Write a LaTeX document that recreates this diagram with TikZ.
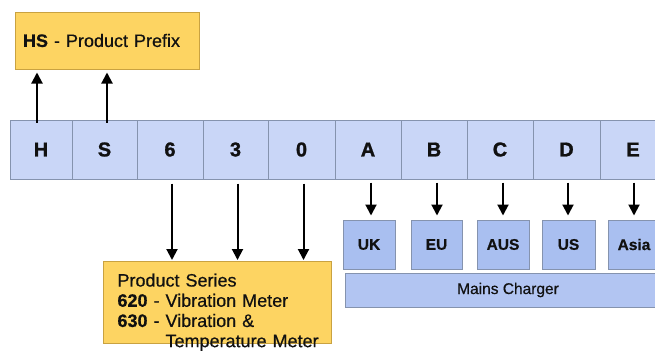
\documentclass[tikz,border=0pt]{standalone}
\usepackage{fontspec}
\setmainfont{Liberation Sans}
\newfontfamily\heavyfont[FakeBold=1.2]{Liberation Sans Bold}
\newfontfamily\midfont[FakeBold=0.6]{Liberation Sans Bold}
\newfontfamily\txtfont[FakeBold=0.5]{Liberation Sans}
\usetikzlibrary{arrows.meta}
\definecolor{stripfill}{HTML}{C9D6F7}
\definecolor{stripline}{HTML}{8593AE}
\definecolor{plugfill}{HTML}{A9BFF0}
\definecolor{mainsfill}{HTML}{B2C5F2}
\definecolor{goldfill}{HTML}{FDD462}
\definecolor{goldline}{HTML}{C9A241}
\definecolor{ink}{HTML}{111111}
\newcommand{\bnum}[1]{{\midfont #1}}
\begin{document}
\begin{tikzpicture}[x=1pt,y=-1pt,
  cell/.style={draw=stripline,fill=stripfill,line width=1pt,inner sep=0pt,
    minimum height=59pt,text=ink,font=\fontsize{20}{22}\selectfont\heavyfont},
  plug/.style={draw=stripline,fill=plugfill,line width=1pt,inner sep=0pt,
    minimum width=52pt,minimum height=49pt,text=ink,font=\fontsize{15.5}{17}\selectfont\midfont},
  goldbox/.style={draw=goldline,fill=goldfill,line width=1pt,text=ink,align=left},
  arr/.style={draw=black,line width=2pt,-{Triangle[width=11pt,length=11pt]}}]
\useasboundingbox (0,0) rectangle (655,357);
\clip (0,0) rectangle (655,357);

% strip of code characters
\node[cell,minimum width=62pt] (H) at (41,149.5) {H};
\node[cell,minimum width=65pt] (S) at (104.5,149.5) {S};
\node[cell,minimum width=66pt] (c6) at (170,149.5) {6};
\node[cell,minimum width=65pt] (c3) at (235.5,149.5) {3};
\node[cell,minimum width=67pt] (c0) at (301.5,149.5) {0};
\node[cell,minimum width=66pt] (A) at (368,149.5) {A};
\node[cell,minimum width=66pt] (B) at (434,149.5) {B};
\node[cell,minimum width=66pt] (C) at (500,149.5) {C};
\node[cell,minimum width=67pt] (D) at (566.5,149.5) {D};
\node[cell,minimum width=66pt] (E) at (633,149.5) {E};

% product prefix
\node[goldbox,minimum height=57pt,text width=168pt,inner xsep=8pt,
  font=\fontsize{18}{20}\selectfont\txtfont] (HS) at (107,40.5)
  {\bnum{HS} - Product Prefix};

% product series
\node[goldbox,anchor=north west,text width=200pt,inner xsep=14pt,inner ysep=12pt,
  text depth=45pt,font=\fontsize{18}{20.2}\selectfont\txtfont] (PS) at (103,261)
  {\mbox{Product Series}\\
   \mbox{\bnum{620} - Vibration Meter}\\
   \mbox{\bnum{630} - Vibration \&}\\
   \mbox{\phantom{\bnum{630} - }Temperature Meter}};

% plug types
\node[plug] (UK) at (369,244.5) {UK};
\node[plug,minimum width=51pt] (EU) at (436.5,244.5) {EU};
\node[plug] (AUS) at (503,244.5) {AUS};
\node[plug,minimum width=53pt] (US) at (568.5,244.5) {US};
\node[plug] (Asia) at (634,244.5) {Asia};

\node[draw=stripline,fill=mainsfill,line width=1pt,minimum width=326pt,minimum height=34pt,
  text=ink,font=\fontsize{15.5}{17}\selectfont\txtfont] (MC) at (508,290) {Mains Charger};

% arrows up to prefix
\draw[arr,shorten <=-3pt,shorten >=3pt] ([xshift=-4pt]H.north) -- ([xshift=-4pt]H.north |- HS.south);
\draw[arr,shorten <=-3pt,shorten >=3pt] ([xshift=2.5pt]S.north) -- ([xshift=2.5pt]S.north |- HS.south);

% arrows down to series
\foreach \n in {c6,c3,c0}
  \draw[arr,shorten <=4pt,shorten >=1pt] ([xshift=2pt]\n.south) -- ([xshift=2pt]\n.south |- PS.north);

% arrows down to plugs
\draw[arr,shorten <=3pt,shorten >=4pt] ([xshift=3pt]A.south) -- ([xshift=3pt]A.south |- UK.north);
\draw[arr,shorten <=3pt,shorten >=4pt] ([xshift=3pt]B.south) -- ([xshift=3pt]B.south |- EU.north);
\draw[arr,shorten <=3pt,shorten >=4pt] ([xshift=3pt]C.south) -- ([xshift=3pt]C.south |- AUS.north);
\draw[arr,shorten <=3pt,shorten >=4pt] ([xshift=1.5pt]D.south) -- ([xshift=1.5pt]D.south |- US.north);
\draw[arr,shorten <=3pt,shorten >=4pt] ([xshift=1pt]E.south) -- ([xshift=1pt]E.south |- Asia.north);
\end{tikzpicture}
\end{document}
